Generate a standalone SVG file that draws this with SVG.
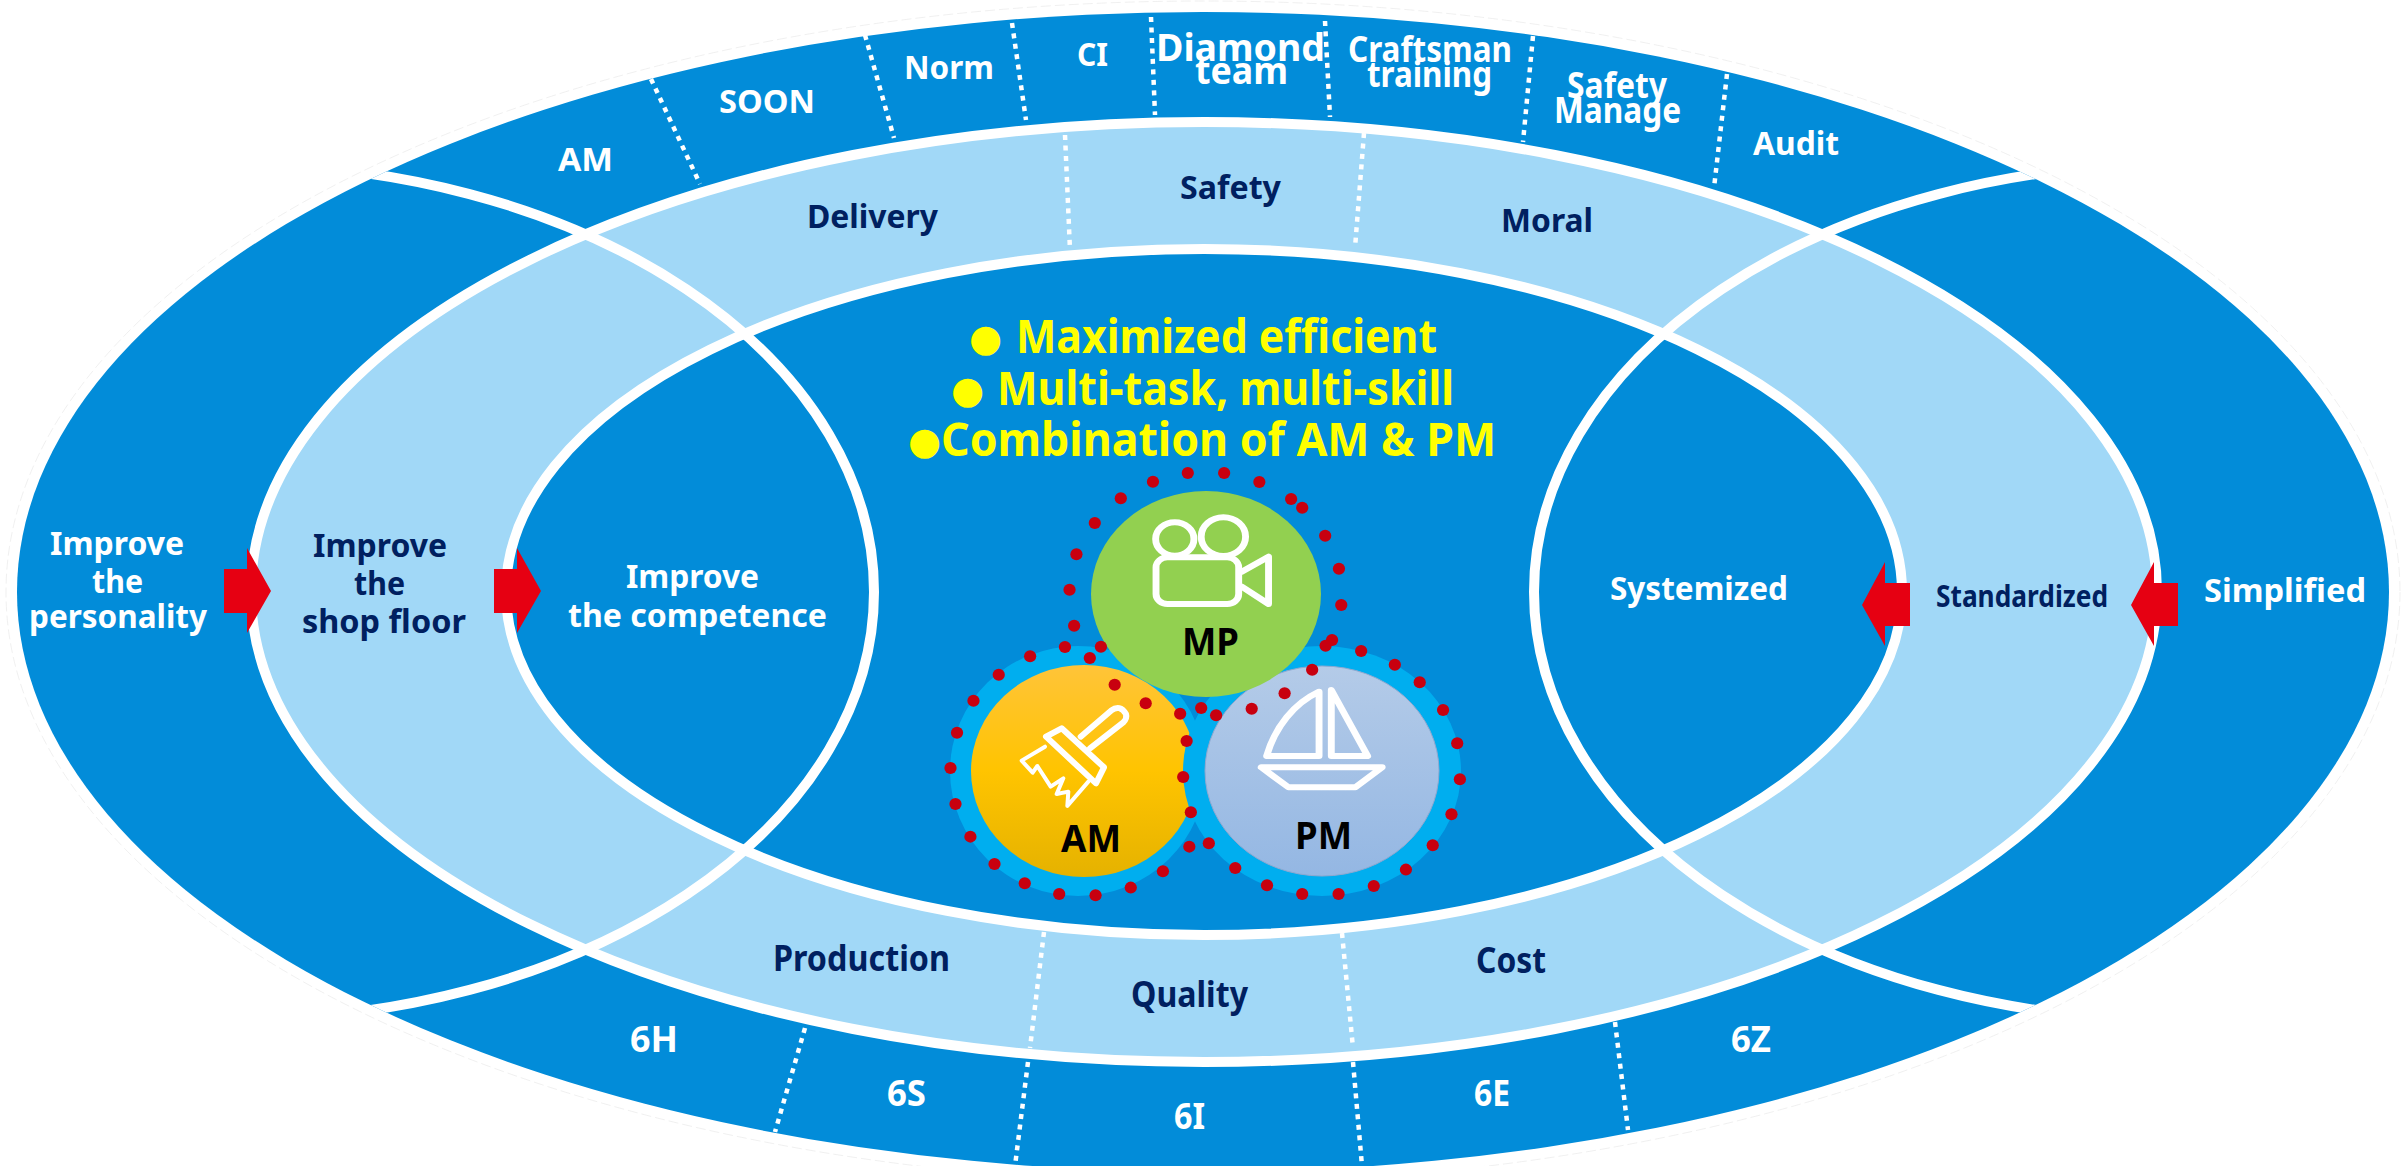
<svg xmlns="http://www.w3.org/2000/svg" width="2405" height="1166" viewBox="0 0 2405 1166">
<style>
text{font-family:"Noto Sans","Open Sans","DejaVu Sans",sans-serif;font-weight:700}
.w{fill:#fff}.n{fill:#002060}.y{fill:#ff0}.k{fill:#000}
.s30{font-size:33px}.s27{font-size:30px}.s32{font-size:35px}.s36{font-size:38px}.s45{font-size:47px}
.blt{font-family:"DejaVu Sans",sans-serif;font-size:38px;fill:#ff0}
.dot{fill:none;stroke:#fff;stroke-width:4.5;stroke-dasharray:5 5.5}
.ic{fill:none;stroke:#fff;stroke-width:18;stroke-linejoin:round;stroke-linecap:round}
.rd{fill:#c8000f}
.ar{fill:#e60012}
.rg{fill:#00aeef}
</style>
<defs>
<clipPath id="oc"><ellipse cx="1203" cy="592" rx="1186" ry="580"/></clipPath>
<linearGradient id="go" x1="0" y1="0" x2="0" y2="1"><stop offset="0" stop-color="#ffc439"/><stop offset=".5" stop-color="#ffc400"/><stop offset="1" stop-color="#e5b200"/></linearGradient>
<linearGradient id="gp" x1="0" y1="0" x2="0" y2="1"><stop offset="0" stop-color="#b4cbe8"/><stop offset="1" stop-color="#94b7e3"/></linearGradient>
</defs>
<rect width="2405" height="1166" fill="#fff"/>
<g id="rings">
<ellipse cx="1203" cy="592" rx="1197" ry="591" fill="none" stroke="#ccc" stroke-width=".6" stroke-dasharray="10 4" opacity=".5"/>
<ellipse cx="1203" cy="592" rx="1186" ry="580" fill="#028cd9"/>
<ellipse cx="1204" cy="592" rx="953" ry="470" fill="#a1d8f7" stroke="#fff" stroke-width="10"/>
<ellipse cx="1204" cy="592" rx="698" ry="343" fill="#028cd9" stroke="#fff" stroke-width="10"/>
<g clip-path="url(#oc)">
<ellipse cx="234" cy="592" rx="640" ry="428" fill="none" stroke="#fff" stroke-width="10"/>
<ellipse cx="2174" cy="592" rx="640" ry="428" fill="none" stroke="#fff" stroke-width="10"/>
</g>
</g>
<g id="connectors">
<path class="dot" d="M651 79L700 184M865 35L894 138M1012 23L1026 120M1151 17L1155 115M1325 21L1330 117M1533 36L1523 142M1727 74L1714 188"/>
<path class="dot" d="M1065 135L1070 250M1364 133L1355 248M1044 932L1030 1048M1342 933L1353 1048"/>
<path class="dot" d="M805 1028L775 1132M1028 1062L1015 1166M1353 1062L1362 1166M1615 1022L1628 1130"/>
<path class="ar" d="M224 569H247V548L271 591L247 633V613H224Z"/>
<path class="ar" d="M494 569H517V548L541 591L517 633V613H494Z"/>
<path class="ar" d="M1910 583H1885V562L1862 605L1885 646V626H1910Z"/>
<path class="ar" d="M2178 583H2154V562L2131 605L2154 646V626H2178Z"/>
</g>
<g id="labels-top">
<text class="w s30" x="558" y="171" textLength="55" lengthAdjust="spacingAndGlyphs">AM</text>
<text class="w s30" x="719" y="113" textLength="96" lengthAdjust="spacingAndGlyphs">SOON</text>
<text class="w s30" x="904" y="79" textLength="90" lengthAdjust="spacingAndGlyphs">Norm</text>
<text class="w s30" x="1077" y="66" textLength="31" lengthAdjust="spacingAndGlyphs">CI</text>
<text class="w s36" x="1156" y="61" textLength="169" lengthAdjust="spacingAndGlyphs">Diamond</text>
<text class="w s36" x="1195" y="84" textLength="93" lengthAdjust="spacingAndGlyphs">team</text>
<text class="w s32" x="1348" y="62" textLength="164" lengthAdjust="spacingAndGlyphs">Craftsman</text>
<text class="w s32" x="1367" y="87" textLength="125" lengthAdjust="spacingAndGlyphs">training</text>
<text class="w s32" x="1567" y="98" textLength="100" lengthAdjust="spacingAndGlyphs">Safety</text>
<text class="w s32" x="1554" y="123" textLength="127" lengthAdjust="spacingAndGlyphs">Manage</text>
<text class="w s30" x="1753" y="155" textLength="86" lengthAdjust="spacingAndGlyphs">Audit</text>
<text class="n s30" x="807" y="228" textLength="131" lengthAdjust="spacingAndGlyphs">Delivery</text>
<text class="n s30" x="1180" y="199" textLength="101" lengthAdjust="spacingAndGlyphs">Safety</text>
<text class="n s30" x="1501" y="232" textLength="92" lengthAdjust="spacingAndGlyphs">Moral</text>
</g>
<g id="labels-bottom">
<text class="n s32" x="773" y="971" textLength="177" lengthAdjust="spacingAndGlyphs">Production</text>
<text class="n s32" x="1131" y="1007" textLength="117" lengthAdjust="spacingAndGlyphs">Quality</text>
<text class="n s32" x="1476" y="973" textLength="70" lengthAdjust="spacingAndGlyphs">Cost</text>
<text class="w s32" x="630" y="1052" textLength="48" lengthAdjust="spacingAndGlyphs">6H</text>
<text class="w s32" x="887" y="1106" textLength="39" lengthAdjust="spacingAndGlyphs">6S</text>
<text class="w s32" x="1174" y="1129" textLength="31" lengthAdjust="spacingAndGlyphs">6I</text>
<text class="w s32" x="1474" y="1106" textLength="36" lengthAdjust="spacingAndGlyphs">6E</text>
<text class="w s32" x="1731" y="1052" textLength="40" lengthAdjust="spacingAndGlyphs">6Z</text>
</g>
<g id="labels-left">
<text class="w s30" x="50" y="555" textLength="134" lengthAdjust="spacingAndGlyphs">Improve</text>
<text class="w s30" x="92" y="593" textLength="51" lengthAdjust="spacingAndGlyphs">the</text>
<text class="w s30" x="29" y="628" textLength="178" lengthAdjust="spacingAndGlyphs">personality</text>
<text class="n s30" x="313" y="557" textLength="134" lengthAdjust="spacingAndGlyphs">Improve</text>
<text class="n s30" x="354" y="595" textLength="51" lengthAdjust="spacingAndGlyphs">the</text>
<text class="n s30" x="302" y="633" textLength="164" lengthAdjust="spacingAndGlyphs">shop floor</text>
<text class="w s30" x="626" y="588" textLength="133" lengthAdjust="spacingAndGlyphs">Improve</text>
<text class="w s30" x="568" y="627" textLength="259" lengthAdjust="spacingAndGlyphs">the competence</text>
</g>
<g id="labels-right">
<text class="w s30" x="1610" y="600" textLength="178" lengthAdjust="spacingAndGlyphs">Systemized</text>
<text class="n s27" x="1936" y="607" textLength="172" lengthAdjust="spacingAndGlyphs">Standardized</text>
<text class="w s30" x="2204" y="602" textLength="162" lengthAdjust="spacingAndGlyphs">Simplified</text>
</g>
<g id="goals">
<text class="blt" x="969" y="351">●</text>
<text class="y s45" x="1016" y="353" textLength="421" lengthAdjust="spacingAndGlyphs">Maximized efficient</text>
<text class="blt" x="951" y="403">●</text>
<text class="y s45" x="997" y="405" textLength="457" lengthAdjust="spacingAndGlyphs">Multi-task, multi-skill</text>
<text class="blt" x="908" y="454">●</text>
<text class="y s45" x="941" y="456" textLength="555" lengthAdjust="spacingAndGlyphs">Combination of AM &amp; PM</text>
</g>
<g id="node-am">
<ellipse class="rg" cx="1078" cy="771" rx="128" ry="125"/>
<ellipse cx="1084" cy="771" rx="113" ry="106" fill="url(#go)"/>
</g>
<g id="node-pm">
<ellipse class="rg" cx="1322" cy="771" rx="139" ry="125"/>
<ellipse cx="1322" cy="771" rx="117" ry="105" fill="url(#gp)" stroke="#8fa8d0" stroke-width="1"/>
<g transform="translate(900 440) scale(.3827 .3333)">
<path class="ic" d="M1095 755C1030 790 980 860 958 948H1095Z"/>
<path class="ic" d="M1127 750L1222 948H1127Z"/>
<path class="ic" d="M944 982H1260L1190 1042H1015Z"/>
</g>
<text class="k s36" x="1295" y="849" textLength="57" lengthAdjust="spacingAndGlyphs">PM</text>
</g>
<g id="node-mp">
<ellipse cx="1206" cy="594" rx="115" ry="103" fill="#92d050"/>
<g transform="translate(900 440) scale(.3827 .3333)">
<circle class="ic" cx="718" cy="297" r="50"/>
<circle class="ic" cx="845" cy="290" r="58"/>
<rect class="ic" x="669" y="352" width="216" height="140" rx="30"/>
<path class="ic" d="M893 395L963 350V492L893 440"/>
</g>
<text class="k s36" x="1182" y="655" textLength="57" lengthAdjust="spacingAndGlyphs">MP</text>
</g>
<g id="node-am-label">
<g transform="translate(1010 690) scale(.3333)">
<path class="ic" stroke-width="20" d="M212 140L303 62Q330 42 348 72Q352 85 340 97L240 175"/>
<path class="ic" stroke-width="20" d="M108 140L155 115L282 232L258 280Z"/>
<path class="ic" style="stroke-width:12" d="M105 170L35 212L68 248L82 228L122 290L160 265L140 312L175 305L172 348L235 275"/>
</g>
<text class="k s36" x="1061" y="852" textLength="60" lengthAdjust="spacingAndGlyphs">AM</text>
</g>
<g id="dots" class="rd" transform="translate(900 440) scale(.3827 .3333)">
<ellipse cx="752" cy="99" rx="16" ry="18"/><ellipse cx="847" cy="99" rx="16" ry="18"/><ellipse cx="939" cy="126" rx="16" ry="18"/><ellipse cx="1022" cy="177" rx="16" ry="18"/><ellipse cx="1051" cy="203" rx="16" ry="18"/><ellipse cx="1111" cy="287" rx="16" ry="18"/><ellipse cx="1147" cy="386" rx="16" ry="18"/><ellipse cx="1153" cy="495" rx="16" ry="18"/><ellipse cx="1129" cy="600" rx="16" ry="18"/><ellipse cx="1112" cy="617" rx="16" ry="18"/><ellipse cx="1077" cy="689" rx="16" ry="18"/><ellipse cx="1005" cy="760" rx="16" ry="18"/><ellipse cx="919" cy="806" rx="16" ry="18"/><ellipse cx="826" cy="826" rx="16" ry="18"/><ellipse cx="787" cy="804" rx="16" ry="18"/><ellipse cx="732" cy="821" rx="16" ry="18"/><ellipse cx="642" cy="790" rx="16" ry="18"/><ellipse cx="561" cy="734" rx="16" ry="18"/><ellipse cx="496" cy="654" rx="16" ry="18"/><ellipse cx="525" cy="620" rx="16" ry="18"/><ellipse cx="431" cy="621" rx="16" ry="18"/><ellipse cx="455" cy="557" rx="16" ry="18"/><ellipse cx="443" cy="449" rx="16" ry="18"/><ellipse cx="461" cy="343" rx="16" ry="18"/><ellipse cx="509" cy="249" rx="16" ry="18"/><ellipse cx="577" cy="175" rx="16" ry="18"/><ellipse cx="661" cy="125" rx="16" ry="18"/>
<ellipse cx="340" cy="649" rx="16" ry="18"/><ellipse cx="258" cy="704" rx="16" ry="18"/><ellipse cx="192" cy="782" rx="16" ry="18"/><ellipse cx="149" cy="878" rx="16" ry="18"/><ellipse cx="132" cy="984" rx="16" ry="18"/><ellipse cx="145" cy="1092" rx="16" ry="18"/><ellipse cx="184" cy="1190" rx="16" ry="18"/><ellipse cx="247" cy="1272" rx="16" ry="18"/><ellipse cx="326" cy="1330" rx="16" ry="18"/><ellipse cx="416" cy="1362" rx="16" ry="18"/><ellipse cx="511" cy="1366" rx="16" ry="18"/><ellipse cx="603" cy="1343" rx="16" ry="18"/><ellipse cx="687" cy="1294" rx="16" ry="18"/><ellipse cx="756" cy="1220" rx="16" ry="18"/><ellipse cx="760" cy="1117" rx="16" ry="18"/><ellipse cx="740" cy="1011" rx="16" ry="18"/><ellipse cx="749" cy="903" rx="16" ry="18"/>
<ellipse cx="807" cy="1210" rx="16" ry="18"/><ellipse cx="876" cy="1284" rx="16" ry="18"/><ellipse cx="959" cy="1336" rx="16" ry="18"/><ellipse cx="1051" cy="1362" rx="16" ry="18"/><ellipse cx="1146" cy="1362" rx="16" ry="18"/><ellipse cx="1238" cy="1338" rx="16" ry="18"/><ellipse cx="1322" cy="1289" rx="16" ry="18"/><ellipse cx="1392" cy="1216" rx="16" ry="18"/><ellipse cx="1441" cy="1123" rx="16" ry="18"/><ellipse cx="1463" cy="1018" rx="16" ry="18"/><ellipse cx="1456" cy="910" rx="16" ry="18"/><ellipse cx="1419" cy="810" rx="16" ry="18"/><ellipse cx="1358" cy="727" rx="16" ry="18"/><ellipse cx="1293" cy="674" rx="16" ry="18"/><ellipse cx="1205" cy="633" rx="16" ry="18"/>
</g>
</svg>
